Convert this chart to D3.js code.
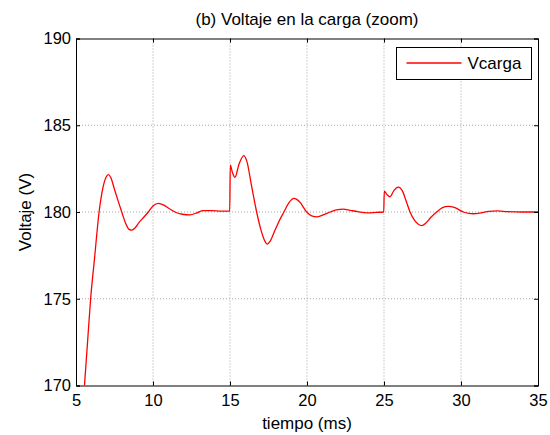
<!DOCTYPE html>
<html>
<head>
<meta charset="utf-8">
<script src="https://cdn.jsdelivr.net/npm/d3@7/dist/d3.min.js"></script>
<style>
  html, body { margin: 0; padding: 0; background: #fff; }
  svg { display: block; font-family: "Liberation Sans", Arial, sans-serif; }
</style>
</head>
<body>
<svg id="chart" width="550" height="435"></svg>
<script>
// Load voltage response (time in ms, voltage in V)
const timeMs = [
  5.55, 5.75, 5.95, 6.2, 6.5, 6.75, 6.95, 7.1, 7.25, 7.5, 7.75, 7.97, 8.2, 8.45, 8.62, 8.85,
  9.1, 9.4, 9.69, 10.0, 10.35, 10.7, 11.05, 11.43, 11.9, 12.4, 12.85, 13.25, 13.8, 14.4, 14.98,
  15.02, 15.15, 15.32, 15.6, 15.9, 16.1, 16.4, 16.73, 17.0, 17.25, 17.42, 17.6, 17.9, 18.2,
  18.5, 18.8, 19.16, 19.5, 19.98, 20.3, 20.67, 21.1, 21.5, 21.9, 22.36, 22.8, 23.3, 23.9,
  24.5, 24.98,
  25.02, 25.2, 25.39, 25.65, 25.93, 26.2, 26.45, 26.69, 27.0, 27.25, 27.45, 27.7, 28.05,
  28.42, 28.8, 29.18, 29.6, 30.15, 30.5, 30.8, 31.3, 31.8, 32.4, 33.0, 34.0, 35.0
];
const vcarga = [
  170, 172.5, 175, 177.3, 180, 181.4, 182.0, 182.15, 182.0, 181.3, 180.6, 180, 179.4, 179.0, 178.95, 179.1,
  179.4, 179.7, 180, 180.35, 180.5, 180.4, 180.2, 180.0, 179.87, 179.84, 179.95, 180.08, 180.08, 180.05, 180.05,
  182.7, 182.3, 182.0, 182.8, 183.25, 182.9, 181.5, 180, 179.0, 178.35, 178.15, 178.3, 178.9, 179.5,
  180, 180.5, 180.78, 180.6, 180, 179.78, 179.72, 179.85, 180, 180.12, 180.17, 180.1, 180.02, 179.95,
  179.98, 180.0,
  181.2, 181.0, 180.88, 181.25, 181.43, 181.2, 180.6, 180, 179.5, 179.28, 179.22, 179.35, 179.7,
  180, 180.25, 180.32, 180.25, 180, 179.92, 179.9, 179.95, 180.03, 180.06, 180.02, 180.0, 180.0
];
const xTicks = [5, 10, 15, 20, 25, 30, 35];
const yTicks = [170, 175, 180, 185, 190];
const titleText = "(b) Voltaje en la carga (zoom)";
const xLabel = "tiempo (ms)";
const yLabel = "Voltaje (V)";
const seriesName = "Vcarga";

const svg = d3.select("#chart");
const m = { left: 76, right: 12, top: 38.5, bottom: 49.5 };
const W = 550, H = 435;
const x = d3.scaleLinear().domain([5, 35]).range([m.left, W - m.right]);
const y = d3.scaleLinear().domain([170, 190]).range([H - m.bottom, m.top]);
const cx = (x(5) + x(35)) / 2;

// Dotted grid
const grid = svg.append("g").attr("stroke", "#8c8c8c").attr("stroke-width", 0.8)
  .attr("stroke-dasharray", "1,2");
grid.selectAll(".gx").data(xTicks.slice(1, -1)).join("line")
  .attr("x1", d => x(d)).attr("x2", d => x(d))
  .attr("y1", y(170)).attr("y2", y(190));
grid.selectAll(".gy").data(yTicks.slice(1, -1)).join("line")
  .attr("x1", x(5)).attr("x2", x(35))
  .attr("y1", d => y(d)).attr("y2", d => y(d));

// Data line, clipped to the axes box
svg.append("clipPath").attr("id", "clip").append("rect")
  .attr("x", x(5)).attr("y", y(190)).attr("width", x(35) - x(5)).attr("height", y(170) - y(190));
const line = d3.line().x(d => x(d[0])).y(d => y(d[1])).curve(d3.curveMonotoneX);
svg.append("path")
  .datum(timeMs.map((t, i) => [t, vcarga[i]]))
  .attr("clip-path", "url(#clip)")
  .attr("fill", "none").attr("stroke", "#ff0000").attr("stroke-width", 1.3)
  .attr("d", line);

// Axes with inward ticks on all four sides
const tick = 4;
svg.append("g").attr("transform", `translate(0,${y(170)})`)
  .call(d3.axisBottom(x).tickValues(xTicks).tickSize(-tick).tickPadding(9).tickFormat(d3.format("d")));
svg.append("g").attr("transform", `translate(0,${y(190)})`)
  .call(d3.axisTop(x).tickValues(xTicks).tickSize(-tick).tickFormat(""));
svg.append("g").attr("transform", `translate(${x(5)},0)`)
  .call(d3.axisLeft(y).tickValues(yTicks).tickSize(-tick).tickPadding(5).tickFormat(d3.format("d")));
svg.append("g").attr("transform", `translate(${x(35)},0)`)
  .call(d3.axisRight(y).tickValues(yTicks).tickSize(-tick).tickFormat(""));
svg.selectAll(".domain").attr("stroke", "#000").attr("stroke-width", 1);
svg.selectAll(".tick line").attr("stroke", "#000");
svg.selectAll(".tick text").attr("font-size", 16.5).attr("fill", "#000")
  .attr("font-family", "'Liberation Sans', Arial, sans-serif");

// Title and axis labels
svg.append("text").attr("x", cx).attr("y", 25)
  .attr("text-anchor", "middle").attr("font-size", 17).text(titleText);
svg.append("text").attr("x", cx).attr("y", 429)
  .attr("text-anchor", "middle").attr("font-size", 17).text(xLabel);
svg.append("text").attr("transform", `translate(31,${(y(170) + y(190)) / 2}) rotate(-90)`)
  .attr("text-anchor", "middle").attr("font-size", 17).text(yLabel);

// Legend
const lg = svg.append("g").attr("transform", "translate(396.5,47.5)");
lg.append("rect").attr("width", 135).attr("height", 32)
  .attr("fill", "#fff").attr("stroke", "#000").attr("stroke-width", 1);
lg.append("line").attr("x1", 10).attr("x2", 65).attr("y1", 15.5).attr("y2", 15.5)
  .attr("stroke", "#ff0000").attr("stroke-width", 1.3);
lg.append("text").attr("x", 71).attr("y", 21.5).attr("font-size", 17).text(seriesName);
</script>
</body>
</html>
